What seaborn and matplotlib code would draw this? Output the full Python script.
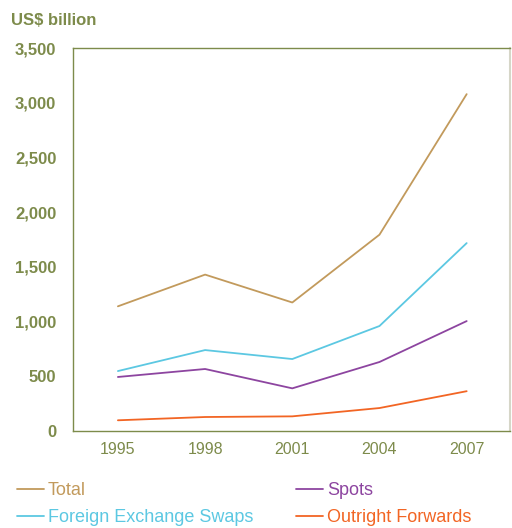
import numpy as np
import pandas as pd
import matplotlib
matplotlib.use("Agg")
import matplotlib.pyplot as plt
import seaborn as sns
from matplotlib.ticker import FixedLocator, FuncFormatter

YEARS = ["1995", "1998", "2001", "2004", "2007"]
TOTAL = [1140, 1430, 1175, 1795, 3080]
SWAPS = [548, 740, 658, 960, 1718]
SPOTS = [494, 567, 390, 631, 1005]
FORWARDS = [98, 128, 134, 210, 364]

SERIES = ["Total", "Foreign Exchange Swaps", "Spots", "Outright Forwards"]
COLORS = {"Total": "#C29A5C", "Foreign Exchange Swaps": "#5CC8E2",
          "Spots": "#8D45A0", "Outright Forwards": "#F26524"}
OLIVE = "#7D8B4B"

sns.set_theme(style="white")
plt.rcParams["font.family"] = ["Liberation Sans", "DejaVu Sans"]

df = pd.DataFrame({
    "year": YEARS * 4,
    "value": TOTAL + SWAPS + SPOTS + FORWARDS,
    "series": np.repeat(SERIES, len(YEARS)),
})

fig = plt.figure(figsize=(5.12, 5.28), dpi=100)
ax = fig.add_axes([0.1426, 0.1837, 0.854, 0.725])
sns.lineplot(data=df, x="year", y="value", hue="series", hue_order=SERIES,
             palette=COLORS, linewidth=1.3, ax=ax, legend=False)

ax.set_xlim(-0.515, 4.5)
ax.set_ylim(0, 3500)
ax.set_yticks(np.arange(0, 3501, 500))
ax.yaxis.set_major_formatter(FuncFormatter(lambda v, p: f"{int(v):,}"))
ax.set_xlabel("")
ax.set_ylabel("")

ax.xaxis.set_minor_locator(FixedLocator([0.5, 1.5, 2.5, 3.5]))
ax.tick_params(axis="x", which="major", length=0, pad=8, labelsize=11.5, labelcolor=OLIVE)
ax.tick_params(axis="x", which="minor", direction="in", length=9, color=OLIVE, width=1)
ax.tick_params(axis="y", which="major", direction="out", length=8, color=OLIVE, width=1,
               pad=4, labelsize=12, labelcolor=OLIVE)
for lab in ax.get_yticklabels():
    lab.set_fontweight("bold")

for side in ["left", "bottom", "top"]:
    ax.spines[side].set_color(OLIVE)
    ax.spines[side].set_linewidth(1)
ax.spines["right"].set_color("#D6D6C8")
ax.spines["right"].set_linewidth(1.5)

fig.text(0.022, 0.962, "US$ billion", fontsize=12, fontweight="bold", color=OLIVE,
         ha="left", va="center")

# legend: two columns placed separately
columns = [(["Total", "Foreign Exchange Swaps"], 0.03),
           (["Spots", "Outright Forwards"], 0.575)]
for names, x0 in columns:
    handles = [plt.Line2D([], [], color=COLORS[s], linewidth=1.3) for s in names]
    leg = fig.legend(handles, names, loc="lower left", bbox_to_anchor=(x0, 0.0),
                     frameon=False, fontsize=13, handlelength=1.5,
                     handletextpad=0.2, labelspacing=0.55, borderpad=0.1,
                     borderaxespad=0)
    for txt, s in zip(leg.get_texts(), names):
        txt.set_color(COLORS[s])

fig.savefig("out.png", dpi=100)
